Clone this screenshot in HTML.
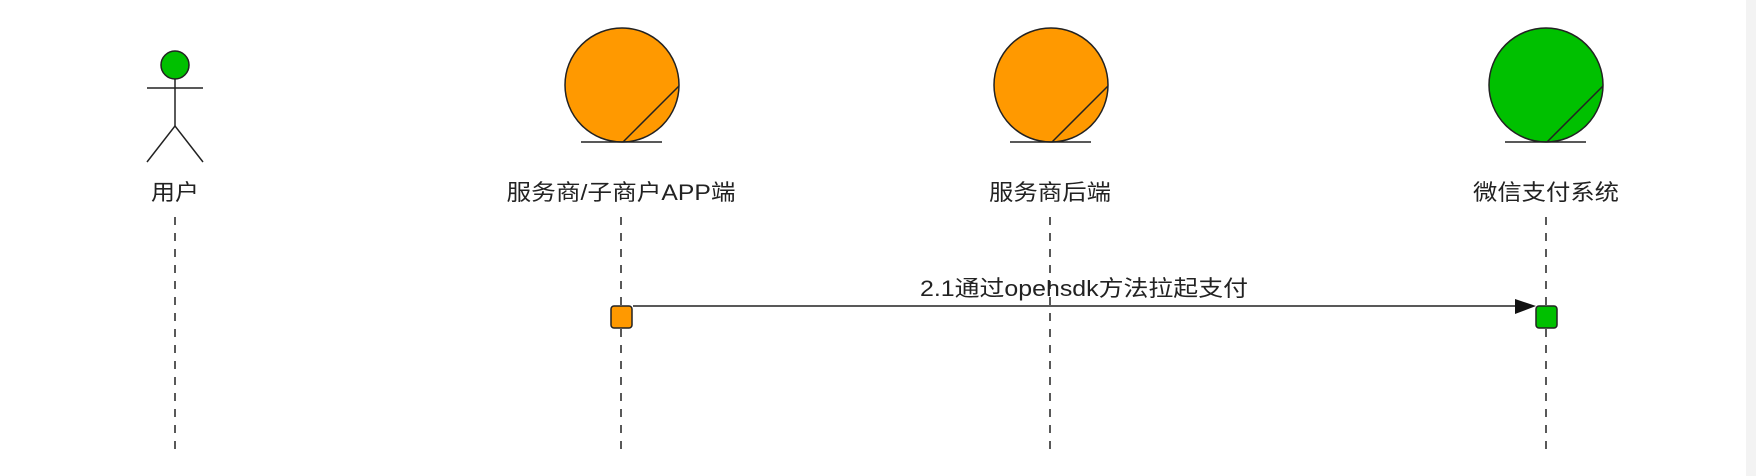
<!DOCTYPE html>
<html><head><meta charset="utf-8"><style>html,body{margin:0;padding:0;background:#fff;}svg{display:block}</style></head>
<body>
<svg width="1756" height="476" viewBox="0 0 1756 476" xmlns="http://www.w3.org/2000/svg" font-family="Liberation Sans, Noto Sans CJK SC, sans-serif" font-size="22" fill="#222">
<rect x="1746" y="0" width="10" height="476" fill="#f3f3f3"/>
<!-- user -->
<g stroke="#222" stroke-width="1.5" fill="none">
<ellipse cx="175" cy="65" rx="14" ry="14" fill="#00C000"/>
<line x1="147" y1="88" x2="203" y2="88"/>
<line x1="175" y1="79" x2="175" y2="126"/>
<polyline points="147,162 175,126 203,162"/>
</g>
<!-- entities -->
<g stroke="#222" stroke-width="1.5">
<ellipse cx="622" cy="85" rx="57" ry="57" fill="#FF9900"/>
<line x1="679" y1="86" x2="623" y2="142"/>
<line x1="581" y1="142" x2="662" y2="142"/>
<ellipse cx="1051" cy="85" rx="57" ry="57" fill="#FF9900"/>
<line x1="1108" y1="86" x2="1052" y2="142"/>
<line x1="1010" y1="142" x2="1091" y2="142"/>
<ellipse cx="1546" cy="85" rx="57" ry="57" fill="#00C000"/>
<line x1="1603" y1="86" x2="1547" y2="142"/>
<line x1="1505" y1="142" x2="1586" y2="142"/>
</g>
<!-- labels -->
<text x="175" y="200" text-anchor="middle" textLength="48" lengthAdjust="spacingAndGlyphs">用户</text>
<text x="621" y="200" text-anchor="middle" textLength="229" lengthAdjust="spacingAndGlyphs">服务商/子商户APP端</text>
<text x="1050" y="200" text-anchor="middle" textLength="122" lengthAdjust="spacingAndGlyphs">服务商后端</text>
<text x="1546" y="200" text-anchor="middle" textLength="146" lengthAdjust="spacingAndGlyphs">微信支付系统</text>
<!-- lifelines -->
<g stroke="#222" stroke-width="1.5" stroke-dasharray="8,8">
<line x1="175" y1="217" x2="175" y2="452"/>
<line x1="621" y1="217" x2="621" y2="452"/>
<line x1="1050" y1="217" x2="1050" y2="452"/>
<line x1="1546" y1="217" x2="1546" y2="452"/>
</g>
<!-- message -->
<line x1="633" y1="306" x2="1516" y2="306" stroke="#222" stroke-width="1.5"/>
<polygon points="1515,299 1536,306 1515,314" fill="#111"/>
<text x="920" y="296" textLength="328" lengthAdjust="spacingAndGlyphs">2.1通过opehsdk方法拉起支付</text>
<rect x="611" y="306" width="21" height="22" rx="3" fill="#FF9900" stroke="#222" stroke-width="1.5"/>
<rect x="1536" y="306" width="21" height="22" rx="3" fill="#00C000" stroke="#222" stroke-width="1.5"/>
</svg>
</body></html>
